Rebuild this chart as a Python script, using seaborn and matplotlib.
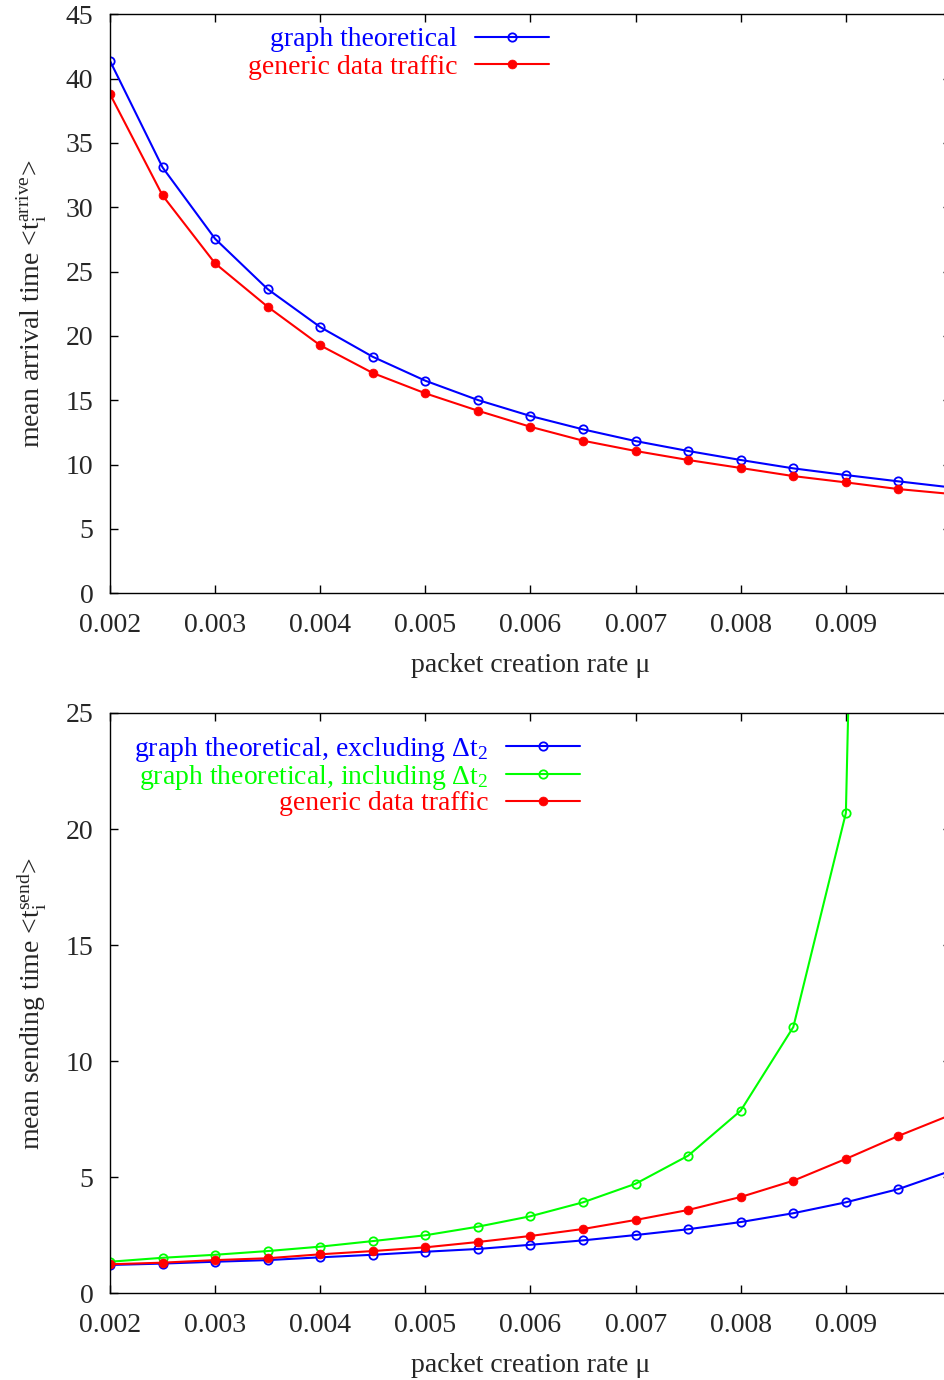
import matplotlib
matplotlib.use("Agg")
import matplotlib.pyplot as plt
import seaborn as sns
import pandas as pd

# packet creation rate values
mu = [0.002, 0.0025, 0.003, 0.0035, 0.004, 0.0045, 0.005, 0.0055, 0.006,
      0.0065, 0.007, 0.0075, 0.008, 0.0085, 0.009, 0.0095, 0.01]
mu_incl = mu[:-1]

# mean arrival time
arrive_theory = [41.38, 33.10, 27.55, 23.64, 20.69, 18.38, 16.52, 15.02, 13.78,
                 12.74, 11.83, 11.06, 10.36, 9.71, 9.19, 8.70, 8.23]
arrive_traffic = [38.80, 30.92, 25.64, 22.27, 19.27, 17.12, 15.54, 14.19, 12.94,
                  11.86, 11.06, 10.36, 9.74, 9.11, 8.62, 8.10, 7.72]

# mean sending time
send_excl = [1.22, 1.28, 1.36, 1.43, 1.55, 1.66, 1.79, 1.91, 2.09,
             2.28, 2.51, 2.76, 3.07, 3.45, 3.92, 4.49, 5.28]
send_incl = [1.36, 1.53, 1.66, 1.82, 2.01, 2.25, 2.50, 2.87, 3.32,
             3.92, 4.72, 5.93, 7.87, 11.47, 20.69, 120.0]
send_traffic = [1.25, 1.32, 1.43, 1.51, 1.68, 1.82, 1.98, 2.21, 2.47,
                2.77, 3.16, 3.59, 4.15, 4.85, 5.79, 6.78, 7.69]

x_ticks = [0.002, 0.003, 0.004, 0.005, 0.006, 0.007, 0.008, 0.009]
x_ticklabels = ["0.002", "0.003", "0.004", "0.005", "0.006", "0.007", "0.008", "0.009"]
y_ticks_top = [0, 5, 10, 15, 20, 25, 30, 35, 40, 45]
y_ticks_bottom = [0, 5, 10, 15, 20, 25]

label_theory = "graph theoretical"
label_traffic = "generic data traffic"
label_excl = "graph theoretical, excluding Δt$_2$"
label_incl = "graph theoretical, including Δt$_2$"

BLUE, RED, GREEN = "#0000ff", "#ff0000", "#00ff00"

sns.set_style("ticks")
plt.rcParams["font.family"] = ["Liberation Serif", "DejaVu Serif"]
plt.rcParams["mathtext.fontset"] = "custom"
plt.rcParams["mathtext.rm"] = "Liberation Serif"
plt.rcParams["mathtext.it"] = "Liberation Serif:italic"
plt.rcParams["axes.linewidth"] = 1.0

FS = 20
W, H = 945, 1380
fig = plt.figure(figsize=(W / 100, H / 100), dpi=100)

left = 110 / W
width = (951 - 110) / W
ax1 = fig.add_axes([left, (H - 593.3) / H, width, (593.3 - 14.3) / H])
ax2 = fig.add_axes([left, (H - 1293.3) / H, width, (1293.3 - 713) / H])


def series(ax, x, y, color, label, filled):
    df = pd.DataFrame({"mu": x, "value": y})
    kws = dict(markeredgecolor=color, markersize=6.0, markeredgewidth=1.3)
    if not filled:
        kws["markerfacecolor"] = "none"
    else:
        kws["markerfacecolor"] = color
        kws["markersize"] = 6.4
        kws["markeredgewidth"] = 0.5
    sns.lineplot(data=df, x="mu", y="value", ax=ax, color=color, marker="o",
                 linewidth=1.5, label=label, errorbar=None, sort=False, **kws)


series(ax1, mu, arrive_theory, BLUE, label_theory, False)
series(ax1, mu, arrive_traffic, RED, label_traffic, True)

series(ax2, mu, send_excl, BLUE, label_excl, False)
series(ax2, mu_incl, send_incl, GREEN, label_incl, False)
series(ax2, mu, send_traffic, RED, label_traffic, True)


def style_axes(ax, yticks, ylim, ylabel, ylabelpad):
    ax.set_xlim(0.002, 0.01)
    ax.set_ylim(*ylim)
    ax.set_xticks(x_ticks, x_ticklabels)
    ax.set_yticks(yticks)
    ax.tick_params(direction="in", length=6, width=1, top=True, right=True,
                   labelsize=FS, color="black")
    ax.tick_params(axis="x", pad=14)
    ax.tick_params(axis="y", pad=12)
    ax.set_xlabel("packet creation rate μ", fontsize=FS, labelpad=11)
    ax.set_ylabel(ylabel, fontsize=FS, labelpad=ylabelpad)
    for s in ax.spines.values():
        s.set_color("black")
        s.set_linewidth(1.0)


style_axes(ax1, y_ticks_top, (0, 45), r"mean arrival time <t$_\mathrm{i}^\mathrm{arrive}$>", 12)
style_axes(ax2, y_ticks_bottom, (0, 25), r"mean sending time <t$_\mathrm{i}^\mathrm{send}$>", 12)


def make_legend(ax, right_px, top_px, spacing):
    handles, labels = ax.get_legend_handles_labels()
    leg = ax.legend(handles, labels, loc="upper right",
                    bbox_to_anchor=(right_px / W, 1 - top_px / H),
                    bbox_transform=fig.transFigure, frameon=False,
                    markerfirst=False, handlelength=2.65, handletextpad=0.65,
                    labelspacing=spacing, borderpad=0, borderaxespad=0,
                    numpoints=1, fontsize=FS)
    for t, h in zip(leg.get_texts(), handles):
        t.set_color(h.get_color())
    # right-align the rows so that the text ends just before each sample line
    leg._legend_handle_box.get_children()[0].align = "right"
    return leg


make_legend(ax1, 549, 27, 0.06)
make_legend(ax2, 580, 735, -0.04)

fig.savefig("out.png", dpi=100)
